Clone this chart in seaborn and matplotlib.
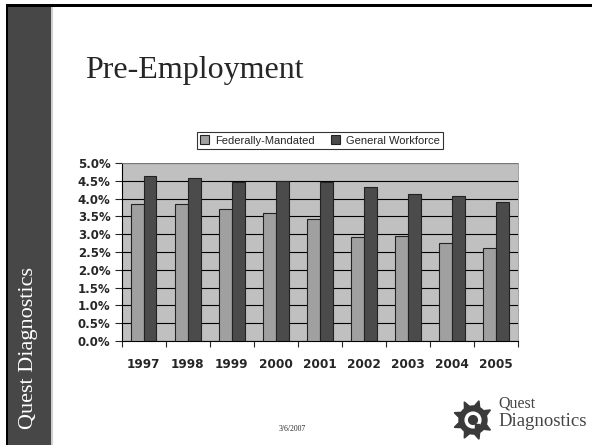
import matplotlib
matplotlib.use("Agg")
import numpy as np
import pandas as pd
import matplotlib.pyplot as plt
import matplotlib.patches as mpatches
import seaborn as sns

# data
years = ["1997", "1998", "1999", "2000", "2001", "2002", "2003", "2004", "2005"]
federally_mandated = [3.84, 3.84, 3.72, 3.59, 3.42, 2.93, 2.94, 2.75, 2.62]
general_workforce = [4.64, 4.58, 4.46, 4.50, 4.46, 4.32, 4.14, 4.06, 3.91]
series_names = ["Federally-Mandated", "General Workforce"]
y_ticks = [0.0, 0.5, 1.0, 1.5, 2.0, 2.5, 3.0, 3.5, 4.0, 4.5, 5.0]

df = pd.DataFrame({
    "Year": years * 2,
    "Rate": federally_mandated + general_workforce,
    "Group": [series_names[0]] * len(years) + [series_names[1]] * len(years),
})

sns.set_style("white")
plt.rcParams["font.family"] = ["Liberation Sans", "DejaVu Sans"]

fig = plt.figure(figsize=(5.92, 4.45), dpi=100)
fig.patch.set_facecolor("white")

# slide frame and left band
fig.patches.append(mpatches.Rectangle((7 / 592, 0), 44 / 592, 1 - 6 / 445, transform=fig.transFigure,
                                      facecolor="#474747", edgecolor="none", zorder=0))
fig.patches.append(mpatches.Rectangle((5.5 / 592, 0), 2.5 / 592, 1 - 4.5 / 445, transform=fig.transFigure,
                                      facecolor="black", edgecolor="none", zorder=1))
fig.patches.append(mpatches.Rectangle((5.5 / 592, 1 - 7 / 445), 1, 2.5 / 445, transform=fig.transFigure,
                                      facecolor="black", edgecolor="none", zorder=1))
fig.patches.append(mpatches.Rectangle((51 / 592, 0), 1.5 / 592, 1 - 7 / 445, transform=fig.transFigure,
                                      facecolor="#cfcfcf", edgecolor="none", zorder=1))

fig.text(85 / 592, 1 - 78 / 445, "Pre-Employment", family="Liberation Serif", fontsize=23,
         va="baseline", ha="left")
fig.text(29 / 592, 1 - 348 / 445, "Quest Diagnostics", family="Liberation Serif", fontsize=16,
         color="white", rotation=90, va="center", ha="center")
fig.text(292 / 592, 1 - 429 / 445, "3/6/2007", family="Liberation Serif", fontsize=5.5,
         va="center", ha="center")

ax = fig.add_axes([121.7 / 592, 1 - 341 / 445, (518 - 121.7) / 592, (341 - 163) / 445])
ax.set_facecolor("#c0c0c0")

sns.barplot(data=df, x="Year", y="Rate", hue="Group", palette=["#a0a0a0", "#4b4b4b"],
            width=0.58, edgecolor="#222222", linewidth=0.8, saturation=1, ax=ax, zorder=3)

ax.set_ylim(0, 5.0)
ax.set_xlim(-0.5, len(years) - 0.5)
ax.set_yticks(y_ticks)
ax.set_yticklabels([f"{v:.1f}%" for v in y_ticks], family="DejaVu Sans", fontweight="bold",
                   fontsize=8.5)
ax.set_xticks(range(len(years)))
ax.set_xticklabels(years, family="DejaVu Sans", fontweight="bold", fontsize=8.7)
ax.tick_params(axis="x", length=0, pad=12)
ax.tick_params(axis="y", length=5, width=0.8, direction="out", left=True, pad=3)
ax.set_xticks(np.arange(-0.5, len(years), 1), minor=True)
ax.tick_params(axis="x", which="minor", length=4, width=0.8, direction="out", bottom=True)
ax.yaxis.grid(True, color="black", linewidth=0.8)
ax.set_axisbelow(True)
ax.set_xlabel("")
ax.set_ylabel("")
for side in ["left", "bottom"]:
    ax.spines[side].set_color("black")
    ax.spines[side].set_linewidth(0.8)
for side in ["top", "right"]:
    ax.spines[side].set_color("#909090")
    ax.spines[side].set_linewidth(0.6)

handles, labels = ax.get_legend_handles_labels()
leg = ax.legend(handles, labels, loc="center", bbox_to_anchor=(320 / 592, 1 - 140.5 / 445),
                bbox_transform=fig.transFigure, ncol=2, fontsize=8, frameon=True,
                fancybox=False, edgecolor="black", handlelength=0.8, handleheight=0.8,
                handletextpad=0.5, columnspacing=1.5, borderpad=0.35, borderaxespad=0)
leg.get_frame().set_linewidth(0.8)

# company logo, drawn roughly
lax = fig.add_axes([452 / 592, 1 - 444 / 445, 42 / 592, 48 / 445])
lax.set_xlim(-1.2, 1.2)
lax.set_ylim(-1.2, 1.2)
lax.set_aspect("equal")
lax.axis("off")
for ang in np.linspace(30, 330, 8):
    a = np.deg2rad(ang)
    tri = mpatches.Polygon([[0.75 * np.cos(a - 0.25), 0.75 * np.sin(a - 0.25)],
                            [1.15 * np.cos(a), 1.15 * np.sin(a)],
                            [0.75 * np.cos(a + 0.25), 0.75 * np.sin(a + 0.25)]],
                           closed=True, color="#3a3a3a")
    lax.add_patch(tri)
lax.add_patch(mpatches.Circle((0, 0), 0.8, color="#3a3a3a"))
lax.add_patch(mpatches.Circle((0, 0), 0.45, color="white"))
lax.add_patch(mpatches.Circle((0, 0), 0.25, color="#3a3a3a"))
lax.add_patch(mpatches.Rectangle((0.1, -0.7), 0.25, 0.5, color="#3a3a3a"))
fig.text(498 / 592, 1 - 404 / 445, "Quest", family="Liberation Serif", fontsize=11.5,
         color="#444444", va="center", ha="left")
fig.text(498 / 592, 1 - 422 / 445, "Diagnostics", family="Liberation Serif", fontsize=13.5,
         color="#444444", va="center", ha="left")

fig.savefig("out.png", dpi=100, facecolor="white")
